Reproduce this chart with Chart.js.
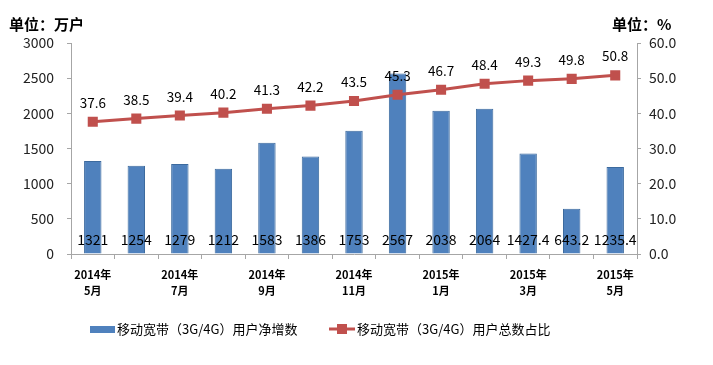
<!DOCTYPE html>
<html>
<head>
<meta charset="utf-8">
<script src="https://cdn.jsdelivr.net/npm/chart.js@4/dist/chart.umd.min.js"></script>
<style>
  html, body { margin: 0; padding: 0; background: #fff; }
  #wrap { position: relative; width: 713px; height: 365px; }
</style>
</head>
<body>
<div id="wrap"><canvas id="myChart" width="713" height="365"></canvas></div>
<script>
// Data
const months = [
    ["2014年", "5月"], ["2014年", "6月"], ["2014年", "7月"], ["2014年", "8月"],
    ["2014年", "9月"], ["2014年", "10月"], ["2014年", "11月"], ["2014年", "12月"],
    ["2015年", "1月"], ["2015年", "2月"], ["2015年", "3月"], ["2015年", "4月"],
    ["2015年", "5月"]
];
const netAdds = [1321, 1254, 1279, 1212, 1583, 1386, 1753, 2567, 2038, 2064, 1427.4, 643.2, 1235.4];
const shareOfTotal = [37.6, 38.5, 39.4, 40.2, 41.3, 42.2, 43.5, 45.3, 46.7, 48.4, 49.3, 49.8, 50.8];
const leftTicks = [0, 500, 1000, 1500, 2000, 2500, 3000];
const rightTicks = [0, 10, 20, 30, 40, 50, 60];

const barLabel = "移动宽带（3G/4G）用户净增数";
const lineLabel = "移动宽带（3G/4G）用户总数占比";

const blue = "#4F81BD";
const red = "#C0504D";
const axisGrey = "#A6A6A6";
const cjk = "'Noto Sans CJK SC', 'Noto Sans', sans-serif";

const ctx = document.querySelector("#myChart");

// Draws the value labels, the unit titles and the legend
const extrasPlugin = {
    id: "extras",
    afterDatasetsDraw(chart) {
        const c = chart.ctx;
        const barMeta = chart.getDatasetMeta(0);
        const lineMeta = chart.getDatasetMeta(1);
        const yBase = chart.scales.y.getPixelForValue(0);
        c.save();
        c.fillStyle = "#000";
        c.font = "14px " + cjk;
        c.textAlign = "center";
        c.textBaseline = "middle";
        barMeta.data.forEach((bar, i) => {
            c.fillText(String(netAdds[i]), bar.x, yBase - 14);
        });
        c.font = "13.5px " + cjk;
        lineMeta.data.forEach((pt, i) => {
            c.fillText(shareOfTotal[i].toFixed(1), pt.x, pt.y - 19);
        });

        // unit titles
        c.font = "bold 15px " + cjk;
        c.textBaseline = "middle";
        c.textAlign = "left";
        c.fillText("单位：万户", 9, 24);
        c.fillText("单位：%", 612, 24);

        // legend
        const ly = 329;
        c.font = "13px " + cjk;
        c.fillStyle = blue;
        c.fillRect(90, ly - 3, 25, 7);
        c.fillStyle = "#000";
        c.textAlign = "left";
        c.fillText(barLabel, 117, ly);

        c.strokeStyle = red;
        c.lineWidth = 3;
        c.beginPath();
        c.moveTo(329, ly);
        c.lineTo(355, ly);
        c.stroke();
        c.fillStyle = red;
        c.fillRect(337, ly - 5, 10, 10);
        c.fillStyle = "#000";
        c.fillText(lineLabel, 357, ly);
        c.restore();
    }
};

let broadbandChart = new Chart(ctx, {
    type: "bar",
    data: {
        labels: months,
        datasets: [
            {
                type: "bar",
                label: barLabel,
                data: netAdds,
                backgroundColor: blue,
                borderColor: "#3C6A9E",
                borderWidth: 1,
                categoryPercentage: 1,
                barPercentage: 0.4,
                yAxisID: "y",
                order: 2
            },
            {
                type: "line",
                label: lineLabel,
                data: shareOfTotal,
                borderColor: red,
                backgroundColor: red,
                borderWidth: 3,
                pointStyle: "rect",
                pointRadius: 5,
                pointHoverRadius: 5,
                tension: 0,
                yAxisID: "y1",
                order: 1
            }
        ]
    },
    options: {
        responsive: false,
        animation: false,
        layout: { padding: { top: 43, left: 0, right: 0, bottom: 0 } },
        plugins: {
            legend: { display: false },
            tooltip: { enabled: false }
        },
        scales: {
            x: {
                offset: true,
                grid: {
                    offset: true,
                    drawOnChartArea: false,
                    color: axisGrey,
                    tickLength: 5
                },
                border: { color: axisGrey, width: 1 },
                ticks: {
                    autoSkip: false,
                    maxRotation: 0,
                    padding: 8,
                    color: "#000",
                    font: { family: cjk, size: 11, weight: "bold", lineHeight: 1.45 },
                    callback: function (val, i) {
                        return i % 2 === 0 ? months[i] : "";
                    }
                },
                afterFit: scale => { scale.height = 111; }
            },
            y: {
                position: "left",
                min: 0,
                max: 3000,
                afterBuildTicks: scale => { scale.ticks = leftTicks.map(v => ({ value: v })); },
                grid: { drawOnChartArea: false, color: axisGrey, tickLength: 4 },
                border: { color: axisGrey, width: 1 },
                ticks: {
                    color: "#222",
                    padding: 13,
                    font: { family: cjk, size: 14 },
                    callback: value => String(value)
                },
                afterFit: scale => { scale.width = 71; }
            },
            y1: {
                position: "right",
                min: 0,
                max: 60,
                afterBuildTicks: scale => { scale.ticks = rightTicks.map(v => ({ value: v })); },
                grid: { drawOnChartArea: false, color: axisGrey, tickLength: 4 },
                border: { color: axisGrey, width: 1 },
                ticks: {
                    color: "#222",
                    padding: 8,
                    font: { family: cjk, size: 14 },
                    callback: value => Number(value).toFixed(1)
                },
                afterFit: scale => { scale.width = 76; }
            }
        }
    },
    plugins: [extrasPlugin]
});
</script>
</body>
</html>
